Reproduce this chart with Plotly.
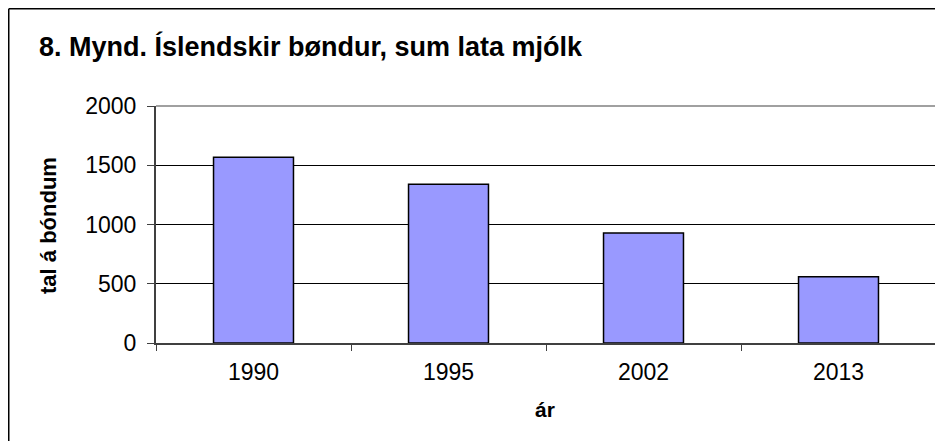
import plotly.graph_objects as go

years = ["1990", "1995", "2002", "2013"]
farmers = [1567, 1340, 929, 559]
y_ticks = [0, 500, 1000, 1500, 2000]

title_text = "8. Mynd. Íslendskir bøndur, sum lata mjólk"
y_title = "tal á bóndum"
x_title = "ár"

# page body has an 8px margin, so figure coords = screen coords - 8
OFF = 8
W, H = 943 - OFF, 441 - OFF
L, R, T, B = 148, 7, 98, 98
pw, ph = W - L - R, H - T - B

def px(x):
    return (x - OFF - L) / pw

def py(y):
    return (H - B - (y - OFF)) / ph

FONT = "Liberation Sans, Arial, sans-serif"

fig = go.Figure(go.Bar(
    x=years, y=farmers,
    marker=dict(color="#9999FF", line=dict(color="#000000", width=1.5)),
    width=0.41,
))

fig.update_layout(
    width=W, height=H,
    margin=dict(l=L, r=R, t=T, b=B),
    paper_bgcolor="white", plot_bgcolor="white",
    showlegend=False,
    font=dict(family=FONT, color="#000000"),
    xaxis=dict(
        type="category", showline=True, linecolor="#404040", linewidth=1.5,
        ticks="outside", ticklen=6, tickcolor="#404040", tickson="boundaries",
        tickfont=dict(size=23, family=FONT), showgrid=False, ticklabelstandoff=8,
    ),
    yaxis=dict(
        range=[0, 2000], tickvals=y_ticks, showline=True, linecolor="#404040", linewidth=2,
        ticks="outside", ticklen=7, tickcolor="#404040",
        tickfont=dict(size=23, family=FONT), showgrid=True, gridcolor="#000000", gridwidth=1,
        zeroline=False, ticklabelstandoff=6,
    ),
    annotations=[
        dict(text="<b>" + title_text + "</b>", xref="paper", yref="paper",
             x=px(37), y=py(47), xanchor="left", yanchor="middle", showarrow=False,
             font=dict(size=27, family=FONT)),
        dict(text="<b>" + y_title + "</b>", xref="paper", yref="paper",
             x=px(48), y=py(226), xanchor="center", yanchor="middle", showarrow=False,
             textangle=-90, font=dict(size=22, family=FONT)),
        dict(text="<b>" + x_title + "</b>", xref="paper", yref="paper",
             x=px(545), y=py(410), xanchor="center", yanchor="middle", showarrow=False,
             font=dict(size=21, family=FONT)),
    ],
    shapes=[
        dict(type="line", xref="paper", yref="paper", x0=0, x1=1, y0=1, y1=1,
             line=dict(color="#808080", width=1.5), layer="above"),
        dict(type="line", xref="paper", yref="paper", x0=1, x1=1, y0=0, y1=1,
             line=dict(color="#808080", width=2), layer="above"),
        dict(type="line", xref="paper", yref="paper", x0=px(8.75), x1=px(960), y0=py(8.75), y1=py(8.75),
             line=dict(color="#000000", width=1.5)),
        dict(type="line", xref="paper", yref="paper", x0=px(8.75), x1=px(8.75), y0=py(8.75), y1=py(470),
             line=dict(color="#000000", width=1.5)),
    ],
)

fig.write_html("out.html")
